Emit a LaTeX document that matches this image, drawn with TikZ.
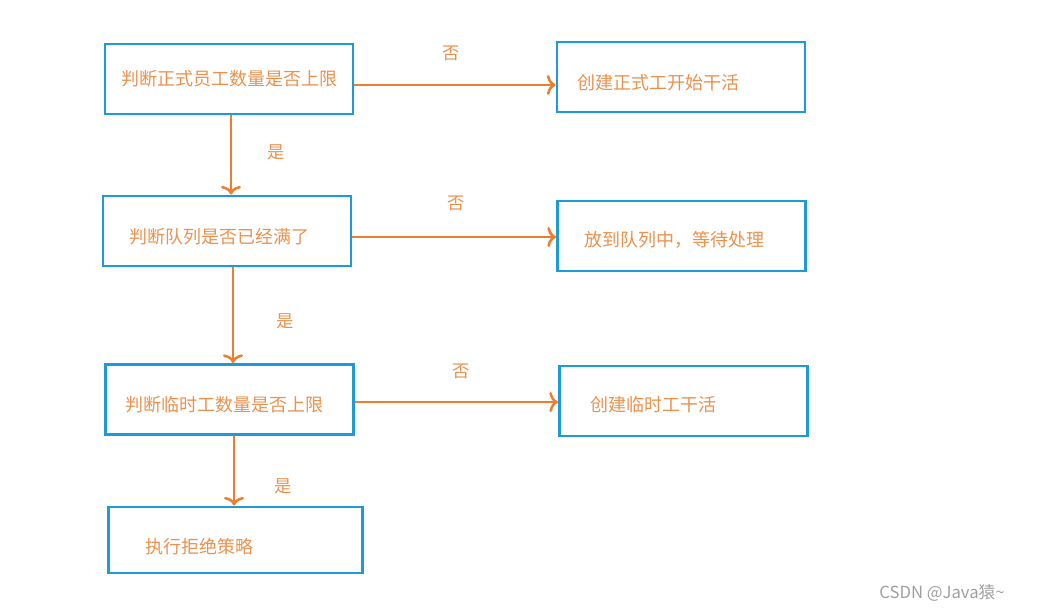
\documentclass[tikz,border=0pt]{standalone}
\usepackage{fontspec}
\newfontfamily\cjk{Noto Sans CJK SC}
\usepackage{xcolor}
\usetikzlibrary{arrows.meta, positioning, calc}
\definecolor{boxblue}{RGB}{30,155,215}
\definecolor{lineorange}{RGB}{237,125,49}
\definecolor{textorange}{RGB}{234,145,78}
\newcommand{\lowered}[2]{\raisebox{-#1}[\height][\depth]{#2}}

\begin{document}
\begin{tikzpicture}[x=0.75pt, y=-0.75pt,
    every node/.style={font=\cjk\fontsize{13.5}{16}\selectfont, text=textorange},
    box/.style={draw=boxblue, line width=2.2pt, minimum width=186pt, minimum height=52.5pt,
        inner xsep=#1, text width=186pt-2*#1, align=left},
    flow/.style={draw=lineorange, line width=1.9pt, -{To[length=6.5pt, width=15pt]}},
    tag/.style={font=\cjk\fontsize{13}{15}\selectfont}]
    \useasboundingbox (0,0) rectangle (1042,609);

    \node[box=10pt, align=center] (full) at (229,79) {判断正式员工数量是否上限};
    \node[box=15pt] (hire) at (681,77) {\lowered{4.5pt}{创建正式工开始干活}};
    \node[box=20pt] (queue) at (227,231) {\lowered{4.5pt}{判断队列是否已经满了}};
    \node[box=20pt] (wait) at (681.5,236) {\lowered{3pt}{放到队列中，等待处理}};
    \node[box=15pt] (temp) at (229.5,399.5) {\lowered{4pt}{判断临时工数量是否上限}};
    \node[box=23pt] (hiretemp) at (683.5,401) {\lowered{3pt}{创建临时工干活}};
    \node[box=28pt, minimum width=191pt, text width=135pt, minimum height=49.5pt] (reject) at (235.5,540) {\lowered{5.25pt}{执行拒绝策略}};

    \draw[flow] ([yshift=-4.5pt]full.east) -- ([yshift=-4.5pt]full.east -| hire.west);
    \draw[flow] ([yshift=-4.5pt]queue.east) -- ([yshift=-4.5pt]queue.east -| wait.west);
    \draw[flow] ([yshift=-2pt]temp.east) -- ([yshift=-2pt]temp.east -| hiretemp.west);
    \draw[flow] ([xshift=1.5pt]full.south) -- ([xshift=1.5pt]full.south |- queue.north);
    \draw[flow] ([xshift=4.5pt]queue.south) -- ([xshift=4.5pt]queue.south |- temp.north);
    \draw[flow] ([xshift=3.4pt]temp.south) -- ([xshift=3.4pt]temp.south |- reject.north);

    \node[tag] (no1) at (451,53) {否};
    \node[tag] (no2) at (456,203) {否};
    \node[tag] (no3) at (461,371) {否};
    \node[tag] (yes1) at (276,152) {是};
    \node[tag] (yes2) at (285,321) {是};
    \node[tag] (yes3) at (283,486) {是};

    \node[font=\cjk\fontsize{12.5}{14}\selectfont, text=gray!75] (mark) at (942,593) {CSDN @Java猿\textasciitilde};
\end{tikzpicture}
\end{document}
